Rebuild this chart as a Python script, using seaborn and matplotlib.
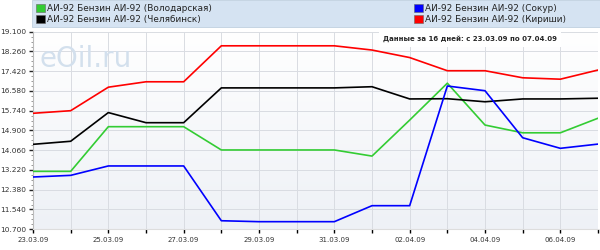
import numpy as np
import pandas as pd
import matplotlib
matplotlib.use("Agg")
import matplotlib.pyplot as plt
import matplotlib.dates as mdates
from matplotlib.patches import Patch, Rectangle
import seaborn as sns

dates = pd.date_range("2009-03-23", "2009-04-07", freq="D")
volodarskaya = [13.16, 13.16, 15.06, 15.06, 15.06, 14.07, 14.07, 14.07, 14.07, 13.81, 15.34, 16.91, 15.13, 14.80, 14.80, 15.42]
chelyabinsk = [14.31, 14.44, 15.66, 15.23, 15.23, 16.71, 16.71, 16.71, 16.71, 16.76, 16.24, 16.25, 16.12, 16.24, 16.24, 16.27]
sokur = [12.92, 12.99, 13.39, 13.39, 13.39, 11.06, 11.02, 11.02, 11.02, 11.70, 11.70, 16.79, 16.59, 14.59, 14.14, 14.32]
kirishi = [15.63, 15.74, 16.74, 16.97, 16.97, 18.50, 18.50, 18.50, 18.50, 18.32, 18.00, 17.44, 17.44, 17.14, 17.08, 17.47]
series_names = ["АИ-92 Бензин АИ-92 (Володарская)", "АИ-92 Бензин АИ-92 (Челябинск)",
                "АИ-92 Бензин АИ-92 (Сокур)", "АИ-92 Бензин АИ-92 (Кириши)"]
colors = ["#33cc33", "#000000", "#0000ff", "#ff0000"]
yticks = [10.700, 11.540, 12.380, 13.220, 14.060, 14.900, 15.740, 16.580, 17.420, 18.260, 19.100]
note = "Данные за 16 дней: с 23.03.09 по 07.04.09"

df = pd.DataFrame({"date": list(dates) * 4,
                   "value": volodarskaya + chelyabinsk + sokur + kirishi,
                   "series": sum([[n] * len(dates) for n in series_names], [])})

sns.set_style("white")
plt.rcParams['font.family'] = ['DejaVu Sans']

fig = plt.figure(figsize=(6, 2.5), dpi=100)
ax = fig.add_axes([33/600, (250-229.2)/250, 565/600, (229.2-31.7)/250])

# background gradient
grad = np.linspace(0, 1, 100).reshape(-1, 1)
ax.imshow(grad, extent=[mdates.date2num(dates[0]), mdates.date2num(dates[-1]), yticks[0], yticks[-1]],
          aspect="auto", cmap=matplotlib.colors.LinearSegmentedColormap.from_list("bg", ["#eef1f6", "#ffffff"]),
          origin="lower", zorder=0)

sns.lineplot(data=df, x="date", y="value", hue="series", palette=dict(zip(series_names, colors)),
             linewidth=1.2, ax=ax, legend=False, zorder=3)

ax.set_xlim(dates[0], dates[-1])
ax.set_ylim(yticks[0], yticks[-1])
ax.set_yticks(yticks)
ax.set_yticklabels([f"{v:.3f}" for v in yticks], fontsize=5.3, color="#333333")
ax.yaxis.set_minor_locator(matplotlib.ticker.AutoMinorLocator(4))
ax.set_xticks(dates)
ax.set_xticklabels([d.strftime("%d.%m.%y") if i % 2 == 0 else "" for i, d in enumerate(dates)],
                   fontsize=5.0, color="#333333")
ax.tick_params(axis="x", length=3, width=1, direction="out", pad=2.5, colors="#000000", labelcolor="#333333")
ax.tick_params(axis="y", which="major", length=3, width=1, direction="out", pad=2, labelcolor="#333333")
ax.tick_params(axis="y", which="minor", length=1.5, width=0.6, direction="out", color="#888888")
ax.tick_params(left=True, bottom=True, which="both")
ax.grid(True, which="major", color="#d9dce2", linewidth=0.7, zorder=1)
ax.set_axisbelow(True)
ax.set_xlabel("")
ax.set_ylabel("")
for s in ["top", "right"]:
    ax.spines[s].set_visible(False)
ax.spines["left"].set_color("#bbbbbb")
ax.spines["bottom"].set_color("#dddddd")

# watermark
ax.text(0.012, 0.86, "eOil.ru", transform=ax.transAxes, fontsize=20, color="#d3e0ed",
        ha="left", va="center", zorder=2)

# note
ax.text(0.773, 0.963, note, transform=ax.transAxes, fontsize=5, fontweight="bold",
        ha="center", va="center", zorder=4,
        bbox=dict(boxstyle="square,pad=0.6", facecolor="white", edgecolor="none"))

# legend band
fig.patches.append(Rectangle((32/600, (250-27)/250), 568/600, 27/250, transform=fig.transFigure,
                             facecolor="#d5e3f2", edgecolor="#c0d0e0", linewidth=0.6, zorder=0))
h1 = [Patch(facecolor=colors[0], edgecolor="#666666", linewidth=0.4, label=series_names[0]),
      Patch(facecolor=colors[1], edgecolor="#666666", linewidth=0.4, label=series_names[1])]
h2 = [Patch(facecolor=colors[2], edgecolor="#666666", linewidth=0.4, label=series_names[2]),
      Patch(facecolor=colors[3], edgecolor="#666666", linewidth=0.4, label=series_names[3])]
kw = dict(loc="upper left", frameon=False, fontsize=6.4, handlelength=0.95, handleheight=0.95,
          handletextpad=0.3, labelspacing=0.2, borderpad=0.3, labelcolor="#222222")
fig.legend(handles=h1, bbox_to_anchor=(29/600, 1.012), **kw)
fig.legend(handles=h2, bbox_to_anchor=(407/600, 1.012), **kw)

fig.savefig("out.png", dpi=100)
